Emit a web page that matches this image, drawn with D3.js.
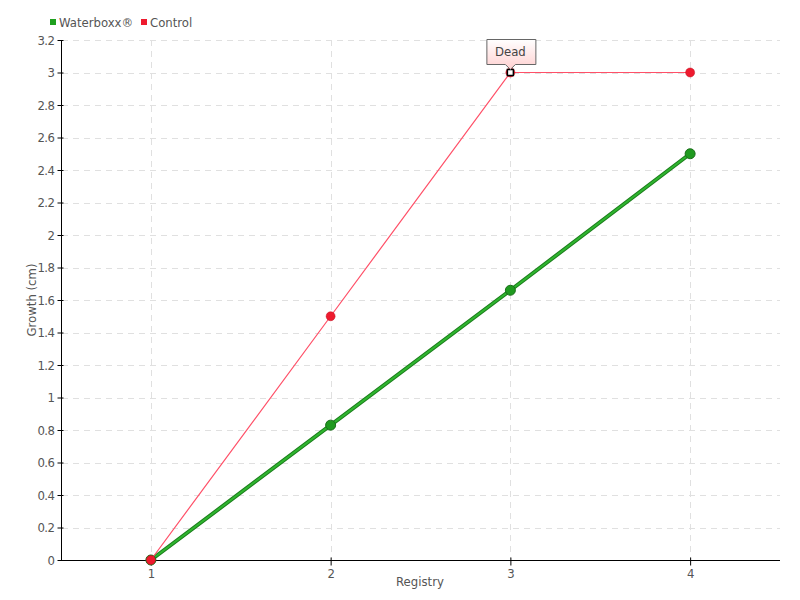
<!DOCTYPE html>
<html><head><meta charset="utf-8">
<script src="https://cdn.jsdelivr.net/npm/d3@7"></script>
<style>
body{margin:0;background:#fff;}
text{font-family:"DejaVu Sans Condensed","Liberation Sans Narrow",sans-serif;}
</style></head>
<body>
<svg id="c" width="800" height="600"></svg>
<script>
const registry = [1, 2, 3, 4];
const waterboxx = [0, 0.83, 1.66, 2.5];
const control = [0, 1.5, 3.0, 3.0];
const yTicks = [0,0.2,0.4,0.6,0.8,1,1.2,1.4,1.6,1.8,2,2.2,2.4,2.6,2.8,3,3.2];
const seriesNames = ["Waterboxx®", "Control"];
const annotation = {index: 2, text: "Dead"};

const svg = d3.select("#c");
const x = d3.scaleLinear().domain([0.5, 4.5]).range([61, 780]);
const y = d3.scaleLinear().domain([0, 3.2]).range([560, 40]);

const defs = svg.append("defs");
const grad = defs.append("linearGradient").attr("id","pink").attr("x1",0).attr("y1",0).attr("x2",0).attr("y2",1);
grad.append("stop").attr("offset","0%").attr("stop-color","#ffffff");
grad.append("stop").attr("offset","100%").attr("stop-color","#ffd0d0");

// grid
const g = svg.append("g");
g.selectAll(".hg").data(yTicks.slice(1)).enter().append("line")
  .attr("x1", 62).attr("x2", 780).attr("y1", d=>Math.round(y(d))+0.5).attr("y2", d=>Math.round(y(d))+0.5)
  .attr("stroke","#e0e0e0").attr("stroke-dasharray","6,5");
g.selectAll(".vg").data(registry).enter().append("line")
  .attr("x1", d=>Math.round(x(d))+0.5).attr("x2", d=>Math.round(x(d))+0.5).attr("y1", 40).attr("y2", 559)
  .attr("stroke","#e0e0e0").attr("stroke-dasharray","6,5");

// axes
const yAxis = d3.axisLeft(y).tickValues(yTicks).tickSize(4).tickPadding(3).tickFormat(d=>String(+d.toFixed(1)));
const ya = svg.append("g").attr("transform","translate(61.5,0)").call(yAxis);
ya.select(".domain").remove();
ya.append("line").attr("x1",0).attr("x2",0).attr("y1",40).attr("y2",560).attr("stroke","#000");
ya.selectAll(".tick line").attr("x2",-4).attr("x1",2).attr("stroke","#000");
ya.selectAll("text").attr("fill","#555").attr("font-size","13px").attr("letter-spacing","-0.5px");

const xAxis = d3.axisBottom(x).tickValues(registry).tickSize(5).tickPadding(3).tickFormat(d3.format("d"));
const xa = svg.append("g").attr("transform","translate(0,560.5)").call(xAxis);
xa.select(".domain").remove();
xa.append("line").attr("x1",58).attr("x2",780).attr("stroke","#000");
xa.selectAll(".tick line").attr("y1",-3).attr("y2",5).attr("stroke","#000");
xa.selectAll("text").attr("fill","#555").attr("font-size","13px");

// axis titles
svg.append("text").attr("x",420).attr("y",586).attr("text-anchor","middle")
  .attr("fill","#555").attr("font-size","13px").text("Registry");
svg.append("text").attr("transform","translate(36,300) rotate(-90)").attr("text-anchor","middle")
  .attr("fill","#555").attr("font-size","13px").text("Growth (cm)");

// lines
const line = d3.line().x((d,i)=>x(registry[i])).y(d=>y(d));
svg.append("path").datum(waterboxx).attr("d",line).attr("fill","none").attr("stroke","#1b7d1b").attr("stroke-width",4);
svg.append("path").datum(waterboxx).attr("d",line).attr("fill","none").attr("stroke","#2fb52f").attr("stroke-width",2);
svg.selectAll(".wm").data(waterboxx).enter().append("circle")
  .attr("cx",(d,i)=>x(registry[i])).attr("cy",d=>y(d)).attr("r",5)
  .attr("fill","#1f9a1f").attr("stroke","#1a6e1a").attr("stroke-width",1);

svg.append("path").datum(control).attr("d",line).attr("fill","none").attr("stroke","#ff5068").attr("stroke-width",1.2);
svg.selectAll(".cm").data(control).enter().append("circle")
  .attr("cx",(d,i)=>x(registry[i])).attr("cy",d=>y(d)).attr("r",4.5)
  .attr("fill","#ee1a2e").attr("stroke","#c01020").attr("stroke-width",0.5);

// annotation marker
const ax = x(registry[annotation.index]), ay = y(control[annotation.index]);
svg.append("rect").attr("x",ax-3).attr("y",ay-3).attr("width",6).attr("height",6)
  .attr("fill","#fff").attr("stroke","#000").attr("stroke-width",1.5);

// annotation box
const bx = ax-24, by = 39, bw = 49, bh = 25;
svg.append("path")
  .attr("d",`M${bx+0.5},${by+0.5}H${bx+bw+0.5}V${by+bh+0.5}H${ax+5}L${ax},${by+bh+5.5}L${ax-5},${by+bh+0.5}H${bx+0.5}Z`)
  .attr("fill","url(#pink)").attr("stroke","#666").attr("stroke-width",1);
svg.append("text").attr("x",ax).attr("y",by+17).attr("text-anchor","middle")
  .attr("fill","#444").attr("font-size","13px").text(annotation.text);

// legend
const legColors = ["#1fa01f","#ee1a2e"];
const legX = [50, 141];
seriesNames.forEach((n,i)=>{
  svg.append("rect").attr("x",legX[i]).attr("y",19).attr("width",6).attr("height",6).attr("fill",legColors[i]);
  svg.append("text").attr("x",legX[i]+9).attr("y",27).attr("fill","#555").attr("font-size","13px").text(n);
});
</script>
</body></html>
